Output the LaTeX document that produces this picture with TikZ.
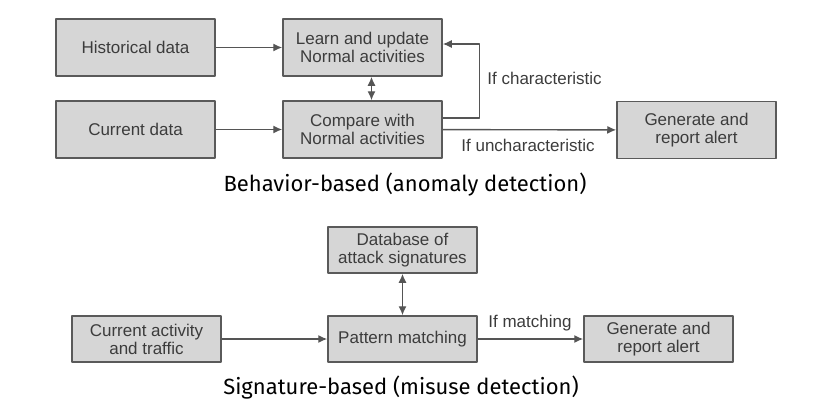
\documentclass[tikz,border=0pt]{standalone}
\usepackage{fontspec}
\setmainfont{Liberation Sans}
\newfontfamily\capfont{Fira Sans}
\usetikzlibrary{arrows.meta}
\definecolor{boxfill}{HTML}{D6D6D6}
\definecolor{boxline}{HTML}{5A5A5A}
\definecolor{txtgray}{HTML}{3C3C3C}
\definecolor{arrgray}{HTML}{555555}
\begin{document}
\begin{tikzpicture}[x=0.5pt, y=-0.5pt, line join=round, >={Latex[length=4.5pt,width=4pt]},
	box/.style={draw=boxline, line width=0.75pt, fill=boxfill, text=txtgray, align=center,
		inner sep=0pt, font=\fontsize{8.5}{9}\selectfont},
	bigbox/.style={box, minimum width=79.5pt, minimum height=28.5pt},
	smallbox/.style={box, minimum width=74.5pt, minimum height=23pt},
	arr/.style={->, draw=arrgray, line width=0.7pt},
	lbl/.style={text=txtgray, inner sep=0pt, anchor=west, font=\fontsize{8.5}{9}\selectfont},
	captext/.style={anchor=base, inner sep=0pt, font=\capfont\fontsize{11}{13}\selectfont}]
	\useasboundingbox (0,0) rectangle (816,409);
	% behavior-based
	\node[bigbox] (hist) at (135.5,47.5) {Historical data};
	\node[bigbox] (learn) at (362.5,47.5) {Learn and update\\Normal activities};
	\node[bigbox] (cur) at (135.5,129.5) {Current data};
	\node[bigbox] (cmp) at (362.5,129.5) {Compare with\\Normal activities};
	\node[bigbox] (gen) at (696.5,130) {Generate and\\report alert};
	\draw[arr] (hist) -- (learn);
	\draw[arr] (cur) -- (cmp);
	\draw[arr, <->] ([xshift=4.5pt]learn.south) -- ([xshift=4.5pt]cmp.north);
	\draw[arr] ([yshift=5.75pt]cmp.east) -- ++(37,0) |- ([yshift=1.75pt]learn.east);
	\draw[arr] (cmp) -- (gen);
	\node[lbl] (charlbl) at (487,78) {If characteristic};
	\node[lbl] (uncharlbl) at (461,145) {If uncharacteristic};
	\node[captext] (cap1) at (405,191) {Behavior-based (anomaly detection)};
	% signature-based
	\node[smallbox] (db) at (402.5,250) {Database of\\attack signatures};
	\node[smallbox] (act) at (146.5,339) {Current activity\\and traffic};
	\node[smallbox] (pat) at (402.5,339) {Pattern matching};
	\node[smallbox] (gen2) at (658.5,339) {Generate and\\report alert};
	\draw[arr, <->] (db) -- (pat);
	\draw[arr] (act) -- (pat);
	\draw[arr] (pat) -- (gen2);
	\node[lbl] (matchlbl) at (488,323) {If matching};
	\node[captext] (cap2) at (401,394) {Signature-based (misuse detection)};
\end{tikzpicture}
\end{document}
